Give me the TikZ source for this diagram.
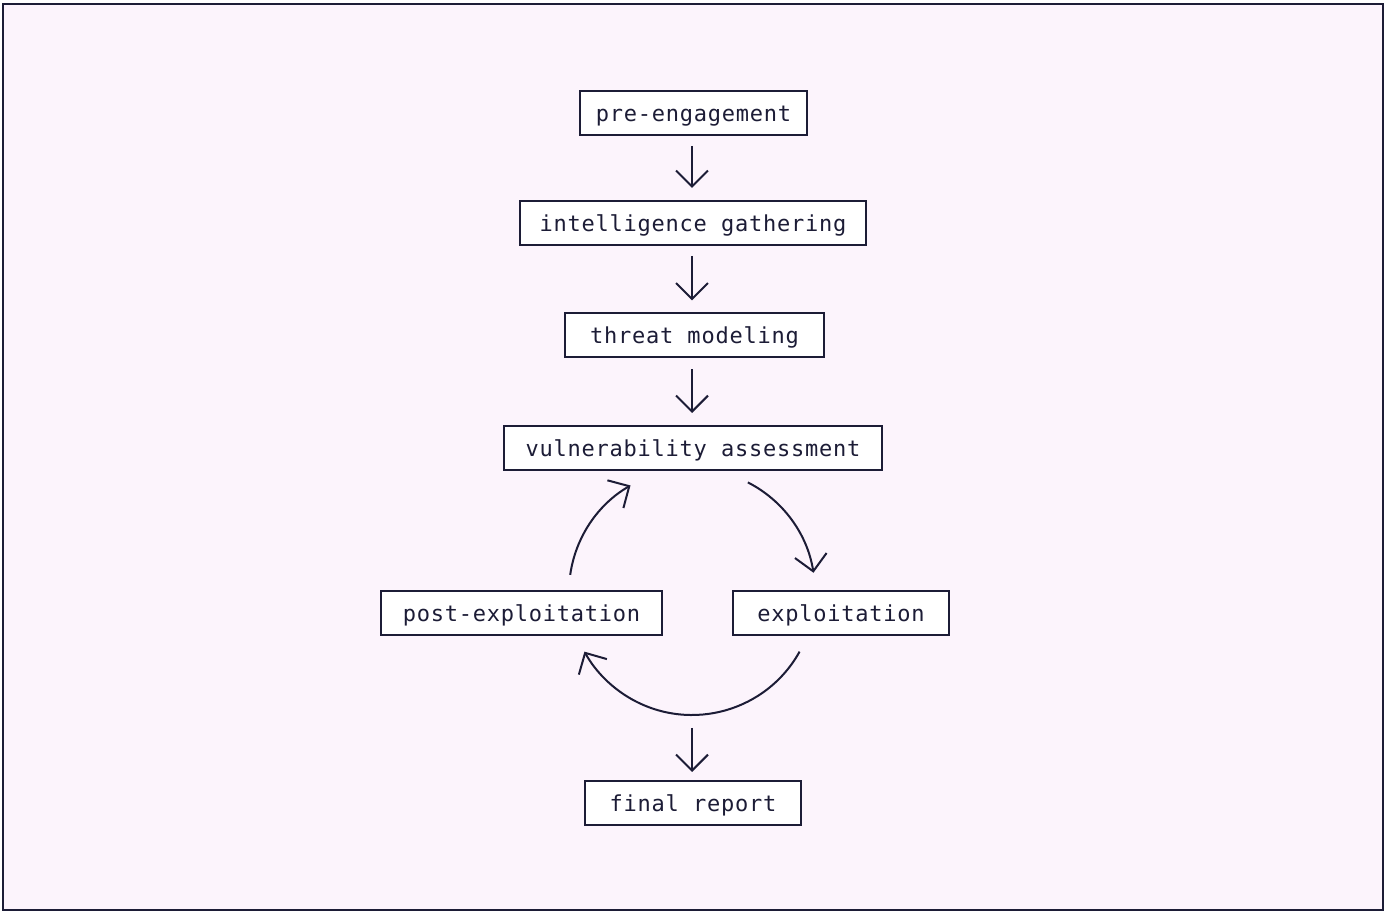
\documentclass[tikz,border=0pt]{standalone}
\usepackage{fontspec}
\newfontfamily\boxfont[LetterSpace=3.5]{DejaVu Sans Mono}
\usetikzlibrary{arrows.meta,calc}
\definecolor{ink}{HTML}{1C1C36}
\definecolor{bgpink}{HTML}{FCF4FC}
\begin{document}
\begin{tikzpicture}[x=1pt,y=1pt,
  box/.style={draw=ink, line width=2pt, fill=white, minimum height=44pt, inner sep=0pt,
    text height=17pt, text depth=0pt,
    font=\boxfont\fontsize{22}{26}\selectfont, text=ink},
  arr/.style={draw=ink, line width=2pt, -{Straight Barb[length=16pt,width=32pt,line width=2pt]}}
]
\useasboundingbox (0,0) rectangle (1386,912);
\draw[ink, line width=2.5pt, fill=bgpink] (3,2) rectangle (1383,908);

\node[box, minimum width=227pt] (pre) at (693.5,799) {pre-engagement};
\node[box, minimum width=346pt] (intel) at (693,689) {intelligence gathering};
\node[box, minimum width=259pt] (threat) at (694.5,576.5) {threat modeling};
\node[box, minimum width=378pt] (vuln) at (693,464) {vulnerability assessment};
\node[box, minimum width=281pt] (post) at (521.5,299) {post-exploitation};
\node[box, minimum width=216pt] (expl) at (841,299) {exploitation};
\node[box, minimum width=216pt] (final) at (693,109) {final report};

\draw[arr, shorten <=10pt, shorten >=12pt] (pre.south -| 692,0) -- (intel.north -| 692,0);
\draw[arr, shorten <=10pt, shorten >=12pt] (intel.south -| 692,0) -- (threat.north -| 692,0);
\draw[arr, shorten <=11pt, shorten >=12pt] (threat.south -| 692,0) -- (vuln.north -| 692,0);

\coordinate (cc) at (692,320);
\coordinate (a1) at ($(cc)+(63:123)$);
\coordinate (a2) at ($(cc)+(-29:123)$);
\coordinate (a3) at ($(cc)+(172:123)$);
\draw[arr] (a1) arc[start angle=63, end angle=9, radius=123];
\draw[arr] (a2) arc[start angle=-29, end angle=-151, radius=123];
\draw[arr] (a3) arc[start angle=172, end angle=120, radius=123];

\coordinate (lo) at (692,184);
\draw[arr, shorten >=8pt] (lo) -- (final.north -| 692,0);
\end{tikzpicture}
\end{document}
